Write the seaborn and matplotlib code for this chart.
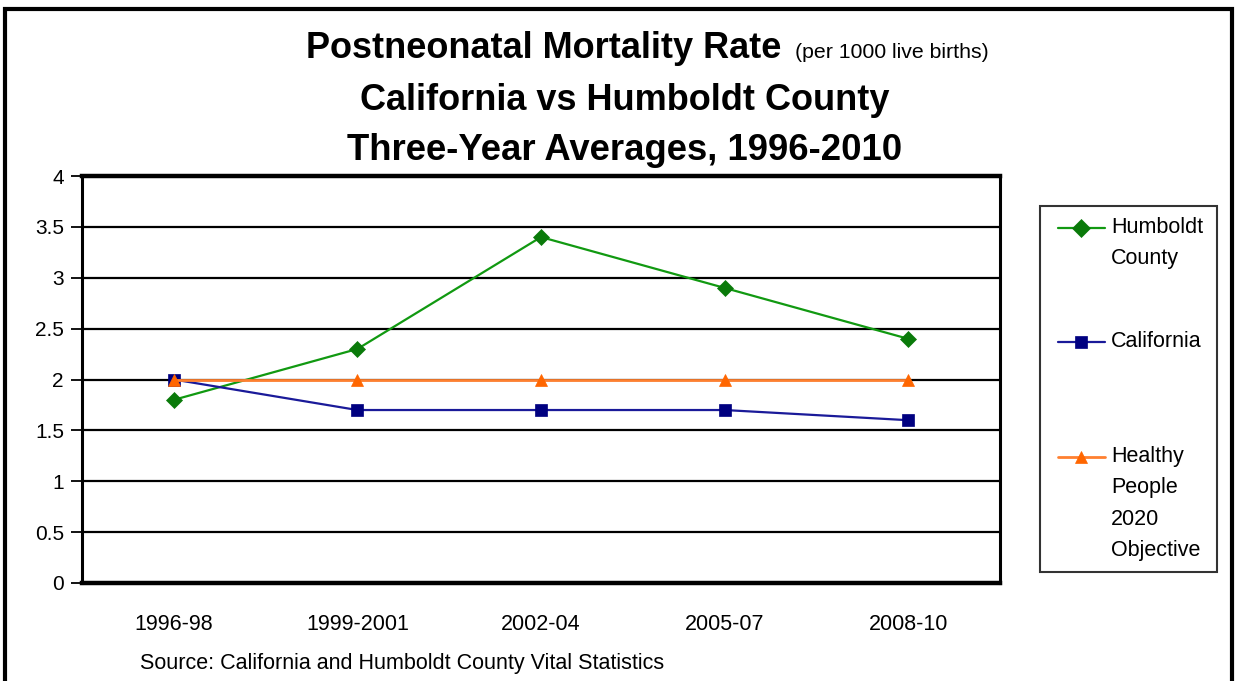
import numpy as np
import pandas as pd
import matplotlib
matplotlib.use("Agg")
import matplotlib.pyplot as plt
from matplotlib.patches import Rectangle
from matplotlib.legend_handler import HandlerLine2D
import seaborn as sns

# Three-year average periods
periods = ["1996-98", "1999-2001", "2002-04", "2005-07", "2008-10"]

# Postneonatal mortality rate per 1000 live births
humboldt = [1.8, 2.3, 3.4, 2.9, 2.4]
california = [2.0, 1.7, 1.7, 1.7, 1.6]
hp2020 = [2.0, 2.0, 2.0, 2.0, 2.0]

series_names = ["Humboldt\nCounty", "California", "Healthy\nPeople\n2020\nObjective"]
series_values = [humboldt, california, hp2020]
line_colors = ["#119911", "#1a1a99", "#ff8030"]
marker_colors = ["#0a7a0a", "#000080", "#ff6600"]
marker_shapes = ["D", "s", "^"]

rows = []
for name, vals in zip(series_names, series_values):
    for p, v in zip(periods, vals):
        rows.append({"period": p, "rate": v, "series": name})
df = pd.DataFrame(rows)

sns.set_style("white")
plt.rcParams["font.family"] = ["Liberation Sans", "DejaVu Sans"]
plt.rcParams["text.color"] = "black"
plt.rcParams["xtick.color"] = "black"
plt.rcParams["ytick.color"] = "black"
plt.rcParams["axes.labelcolor"] = "black"

fig = plt.figure(figsize=(12.37, 6.81), dpi=100)
W, H = 1237, 681


def fx(px):
    return px / W


def fy(py):
    return 1 - py / H


ax = fig.add_axes([fx(82), fy(583), fx(1000) - fx(82), fy(176) - fy(583)])

sns.lineplot(
    data=df, x="period", y="rate", hue="series", style="series",
    hue_order=series_names, style_order=series_names,
    palette=dict(zip(series_names, line_colors)),
    markers=dict(zip(series_names, marker_shapes)),
    dashes=False, sort=False, markersize=9, linewidth=1.6,
    ax=ax, legend=False, zorder=3,
)

for line, mc in zip(ax.lines, marker_colors):
    line.set_markerfacecolor(mc)
    line.set_markeredgecolor(mc)
    line.set_markeredgewidth(0.5)
ax.lines[0].set_markersize(8)
ax.lines[2].set_linewidth(2.0)

# Axes styling
ax.set_xlim(-0.5, len(periods) - 0.5)
ax.set_ylim(0, 4)
ax.set_yticks(np.arange(0, 4.01, 0.5))
ax.set_yticklabels(["0", "0.5", "1", "1.5", "2", "2.5", "3", "3.5", "4"])
ax.yaxis.grid(True, color="black", linewidth=1.6, zorder=1)
ax.xaxis.grid(False)
ax.set_axisbelow(True)
ax.set_xlabel("")
ax.set_ylabel("")

ax.set_xticks(range(len(periods)))
ax.set_xticklabels(periods)
ax.set_xticks(np.arange(-0.5, len(periods), 1.0), minor=True)
ax.tick_params(axis="x", which="major", length=0, pad=22, labelsize=15.5)
ax.tick_params(axis="x", which="minor", length=7, width=1.3, color="black", direction="out")
ax.tick_params(axis="y", which="major", length=8, width=1.3, color="black",
               direction="out", labelsize=15, pad=5, left=True)

for side, lw in [("top", 3.2), ("bottom", 3.2), ("left", 2.2), ("right", 2.2)]:
    ax.spines[side].set_visible(True)
    ax.spines[side].set_color("black")
    ax.spines[side].set_linewidth(lw)

# Title block
cx = fx(625)
fig.text(fx(306), fy(48), "Postneonatal Mortality Rate", fontsize=26, fontweight="bold",
         ha="left", va="center")
fig.text(fx(795), fy(52), "(per 1000 live births)", fontsize=15.3, ha="left", va="center")
fig.text(cx, fy(100), "California vs Humboldt County", fontsize=26, fontweight="bold",
         ha="center", va="center")
fig.text(cx, fy(151), "Three-Year Averages, 1996-2010", fontsize=26.3, fontweight="bold",
         ha="center", va="center")

fig.text(fx(140), fy(663), "Source: California and Humboldt County Vital Statistics",
         fontsize=15.5, ha="left", va="center")


# Legend: handles aligned with the first line of each label
class FirstLineHandler(HandlerLine2D):
    def __init__(self, shift, xshift=0.0, **kw):
        super().__init__(**kw)
        self.shift = shift
        self.xshift = xshift

    def create_artists(self, legend, orig_handle, xdescent, ydescent, width,
                       height, fontsize, trans):
        arts = super().create_artists(legend, orig_handle, xdescent, ydescent,
                                      width, height, fontsize, trans)
        for a in arts:
            a.set_ydata(np.asarray(a.get_ydata(), dtype=float) + self.shift)
            a.set_xdata(np.asarray(a.get_xdata(), dtype=float) + self.xshift)
        return arts


leg_fs = 15.5
linesp = 1.64
step = 0.88 * linesp * leg_fs
# the trailing blank line keeps the entries evenly spaced
legend_labels = ["Humboldt\nCounty", "California\n", "Healthy\nPeople\n2020\nObjective"]
handles = list(ax.lines[:3])
handler_map = {}
for h, name in zip(handles, legend_labels):
    n = name.count("\n") + 1
    handler_map[h] = FirstLineHandler(shift=0.5 * (n - 1) * step, xshift=5.0,
                                      numpoints=1)

leg = fig.legend(
    handles, legend_labels, loc="upper left",
    bbox_to_anchor=(fx(1040), fy(567), fx(1217) - fx(1040), fy(206) - fy(567)),
    mode="expand", borderaxespad=0, fontsize=leg_fs, frameon=True, fancybox=False,
    handlelength=2.19, handletextpad=0.62, labelspacing=2.9, borderpad=0.5,
    handler_map=handler_map,
)
leg.get_frame().set_edgecolor("black")
leg.get_frame().set_linewidth(1.5)
for t in leg.get_texts():
    t.set_linespacing(linesp)
for lh in leg.legend_handles:
    lh.set_markersize(9)

# Outer chart border
fig.patches.append(Rectangle((fx(5), -0.05), fx(1232) - fx(5), fy(9) + 0.05,
                             transform=fig.transFigure, fill=False,
                             edgecolor="black", linewidth=3))

fig.savefig("out.png", dpi=100)
